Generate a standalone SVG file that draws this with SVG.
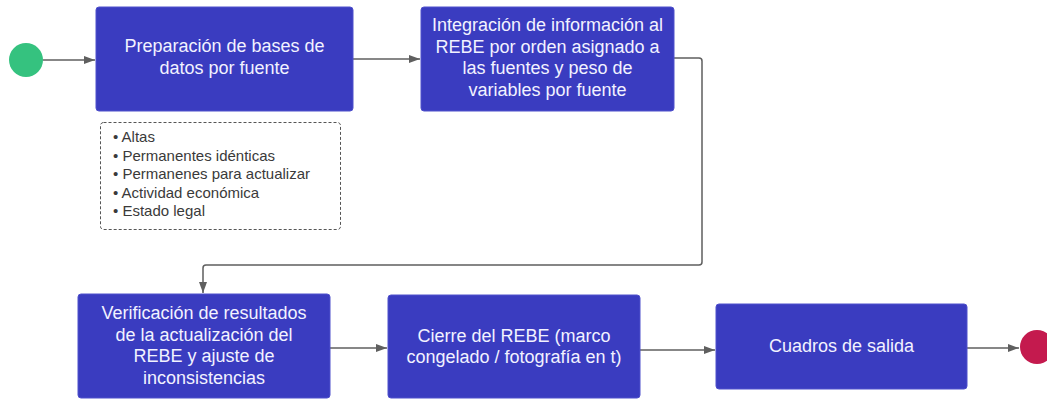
<svg xmlns="http://www.w3.org/2000/svg" width="1047" height="400" viewBox="0 0 1047 400">
<style>
.box{fill:#3A3CC0;stroke:#4f50cc;stroke-width:1}
.bt{font-family:"Liberation Sans",Arial,sans-serif;font-size:18px;fill:#F2F2FF;text-anchor:middle}
.nt{font-family:"Liberation Sans",Arial,sans-serif;font-size:15px;fill:#3a3a3a}
.con{fill:none;stroke:#5f5f5f;stroke-width:1.5}
</style>
<defs>
<marker id="ah" markerWidth="12" markerHeight="10" refX="11" refY="5" orient="auto" markerUnits="userSpaceOnUse">
<path d="M0,1 L11,5 L0,9 Z" fill="#5f5f5f"/>
</marker>
</defs>
<rect width="1047" height="400" fill="#ffffff"/>
<g id="connectors">
<path class="con" d="M43,60 H95" marker-end="url(#ah)"/>
<path class="con" d="M353,59 H420" marker-end="url(#ah)"/>
<path class="con" d="M674,58 H699 Q702,58 702,61 V262 Q702,265 699,265 H206 Q203,265 203,268 V293" marker-end="url(#ah)"/>
<path class="con" d="M330,348 H387" marker-end="url(#ah)"/>
<path class="con" d="M640,350 H715" marker-end="url(#ah)"/>
<path class="con" d="M967,348 H1019" marker-end="url(#ah)"/>
</g>
<g id="start"><circle cx="26" cy="60" r="17" fill="#35C27F"/></g>
<g id="n1">
<rect class="box" x="96" y="7" width="257" height="104" rx="3"/>
<text class="bt" x="224.5" y="52">Preparación de bases de</text>
<text class="bt" x="224.5" y="74">datos por fuente</text>
</g>
<g id="n2">
<rect class="box" x="421" y="7" width="253" height="104" rx="3"/>
<text class="bt" x="547.5" y="31">Integración de información al</text>
<text class="bt" x="547.5" y="52.5">REBE por orden asignado a</text>
<text class="bt" x="547.5" y="74">las fuentes y peso de</text>
<text class="bt" x="547.5" y="95.5">variables por fuente</text>
</g>
<g id="notes">
<rect x="100.5" y="122.5" width="240" height="107" rx="3" fill="none" stroke="#555" stroke-width="1" stroke-dasharray="3,2"/>
<text class="nt" x="113" y="142">• Altas</text>
<text class="nt" x="113" y="160.5">• Permanentes idénticas</text>
<text class="nt" x="113" y="179">• Permanenes para actualizar</text>
<text class="nt" x="113" y="197.5">• Actividad económica</text>
<text class="nt" x="113" y="216">• Estado legal</text>
</g>
<g id="n3">
<rect class="box" x="78" y="294" width="252" height="104" rx="3"/>
<text class="bt" x="204" y="319">Verificación de resultados</text>
<text class="bt" x="204" y="340.5">de la actualización del</text>
<text class="bt" x="204" y="362">REBE y ajuste de</text>
<text class="bt" x="204" y="383.5">inconsistencias</text>
</g>
<g id="n4">
<rect class="box" x="388" y="295" width="252" height="103" rx="3"/>
<text class="bt" x="514" y="342">Cierre del REBE (marco</text>
<text class="bt" x="514" y="363">congelado / fotografía en t)</text>
</g>
<g id="n5">
<rect class="box" x="716" y="304" width="251" height="85" rx="3"/>
<text class="bt" x="841.5" y="352">Cuadros de salida</text>
</g>
<g id="end"><circle cx="1037" cy="347" r="17" fill="#C41A4E"/></g>
</svg>
